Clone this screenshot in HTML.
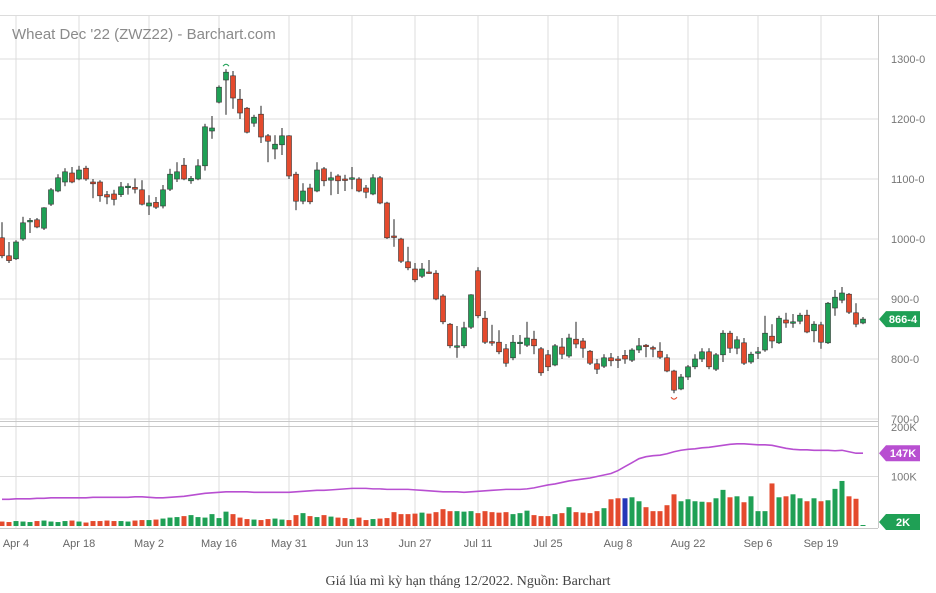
<!DOCTYPE html>
<html><head><meta charset="utf-8"><style>
body{margin:0;background:#fff;width:936px;height:593px;overflow:hidden;font-family:"Liberation Sans",sans-serif}
#cap{position:absolute;left:0;width:936px;top:574px;text-align:center;font-family:"Liberation Serif",serif;font-size:14px;color:#444}
</style></head><body>
<svg id="chart" width="936" height="565" style="position:absolute;left:0;top:0"></svg>
<div id="cap">Giá lúa mì kỳ hạn tháng 12/2022. Nguồn: Barchart</div>
<script>
const opens=[1002,972,967,1000,1030,1032,1018,1058,1080,1095,1110,1100,1118,1095,1095,1074,1075,1074,1088,1086,1082,1055,1061,1055,1083,1100,1123,1097,1100,1122,1180,1228,1265,1272,1233,1218,1193,1208,1172,1150,1157,1172,1108,1063,1085,1080,1117,1098,1105,1100,1101,1100,1085,1075,1102,1060,1005,1000,962,950,938,945,943,905,858,822,822,853,947,868,829,828,817,802,827,823,833,817,807,790,820,805,833,830,813,792,788,802,800,806,798,815,823,819,813,802,780,750,770,787,800,812,783,807,843,818,827,795,811,815,838,827,865,862,863,873,847,857,827,885,898,908,877,860];
const closes=[972,964,995,1027,1031,1020,1052,1082,1102,1112,1095,1115,1100,1092,1072,1070,1066,1087,1088,1083,1058,1060,1053,1082,1108,1112,1100,1101,1122,1187,1185,1253,1278,1235,1210,1178,1203,1170,1163,1158,1172,1105,1063,1080,1062,1115,1097,1102,1097,1099,1102,1080,1078,1102,1060,1002,1004,963,952,932,950,944,900,862,822,822,852,907,872,828,828,812,793,828,828,835,822,777,787,822,808,835,825,818,793,783,802,797,799,800,815,822,822,818,803,780,748,770,787,800,812,787,807,843,818,832,793,808,812,843,830,868,860,862,873,845,858,828,893,903,910,878,858,866.5];
const highs=[1028,995,998,1037,1035,1035,1053,1085,1108,1118,1120,1122,1122,1100,1098,1080,1082,1095,1093,1101,1098,1073,1070,1090,1117,1128,1135,1105,1133,1192,1205,1256,1283,1280,1250,1220,1207,1222,1175,1173,1185,1173,1112,1093,1092,1128,1120,1112,1108,1107,1120,1103,1090,1108,1105,1062,1033,1002,987,960,960,965,948,908,860,855,862,908,953,880,857,848,825,840,840,862,847,820,815,825,835,842,862,835,815,800,808,810,805,815,818,835,825,822,828,808,782,775,790,808,818,818,810,848,847,838,835,812,820,872,858,872,877,875,877,882,863,862,895,915,920,910,893,870];
const lows=[968,960,965,997,1010,1018,1015,1055,1078,1088,1093,1098,1097,1068,1062,1058,1056,1070,1074,1076,1056,1040,1050,1051,1080,1095,1098,1092,1098,1114,1167,1226,1207,1217,1200,1176,1187,1160,1128,1133,1140,1100,1048,1058,1058,1078,1088,1073,1075,1080,1083,1078,1068,1073,1058,1000,987,960,948,928,935,942,898,858,818,802,818,850,868,825,822,808,787,798,808,820,808,772,780,788,800,802,818,802,790,775,785,788,785,792,795,810,803,803,800,778,743,748,765,783,795,783,780,795,810,808,790,792,800,812,818,825,852,852,858,843,828,817,825,872,893,875,853,858];
const volumes=[9,8,10,9,8,10,11,9,8,10,11,9,7,10,10,11,10,10,9,11,12,12,13,15,17,18,20,22,18,17,24,16,29,24,17,14,13,12,14,15,13,12,22,26,20,18,22,19,17,16,14,17,12,14,15,16,28,24,24,25,27,25,28,34,30,30,29,30,26,30,28,27,28,24,26,31,22,20,20,24,26,38,28,27,26,30,36,54,56,56,58,50,38,30,30,42,64,50,54,50,49,48,56,73,58,60,48,60,30,30,86,58,60,64,56,50,56,50,52,75,91,60,55,2];
const openInterest=[54,54,55,55,55,56,56,57,57,57,57,57,57,58,58,58,58,58,58,59,59,58,57,57,58,59,60,62,64,66,67,68,69,69,69,69,68,68,68,68,68,68,69,70,71,72,72,73,74,75,76,76,76,75,75,74,74,74,74,73,72,71,70,69,69,69,68,69,70,71,72,73,74,74,74,75,77,80,83,85,88,91,93,95,97,100,103,106,112,120,128,136,140,142,143,146,150,153,155,156,158,159,161,163,165,166,166,165,164,164,163,160,157,155,154,154,153,153,153,152,153,150,147,147];
const priceTicks=[1300,1200,1100,1000,900,800,700];
const priceLabels=["1300-0","1200-0","1100-0","1000-0","900-0","800-0","700-0"];
const volTicks=[200,100];
const volLabels=["200K","100K"];
const dateIdx=[2,11,21,31,41,50,59,68,78,88,98,108,117];
const dateLabels=["Apr 4","Apr 18","May 2","May 16","May 31","Jun 13","Jun 27","Jul 11","Jul 25","Aug 8","Aug 22","Sep 6","Sep 19"];
const lastPrice="866-4", lastOI="147K", lastVol="2K";

const svg=document.getElementById('chart');
const NS='http://www.w3.org/2000/svg';
function mk(t,a,p){const e=document.createElementNS(NS,t);for(const k in a)e.setAttribute(k,a[k]);(p||svg).appendChild(e);return e;}
const xS=i=>2+7*i;
const yP=v=>59+(1300-v)*0.6;
const yV=v=>526-v*0.495;
const GREEN='#1fa055',RED='#e44a2d',GRID='#dcdcdc';

let g=mk('g',{});
mk('line',{x1:0,x2:936,y1:15.5,y2:15.5,stroke:GRID},g);
priceTicks.forEach(v=>mk('line',{x1:0,x2:878,y1:yP(v),y2:yP(v),stroke:GRID},g));
mk('line',{x1:0,x2:878,y1:yV(100),y2:yV(100),stroke:GRID},g);
dateIdx.forEach(i=>mk('line',{x1:xS(i),x2:xS(i),y1:15,y2:528,stroke:GRID},g));
mk('line',{x1:0,x2:878,y1:421.5,y2:421.5,stroke:'#c8c8c8'},g);
mk('line',{x1:0,x2:878,y1:426.5,y2:426.5,stroke:'#c8c8c8'},g);
mk('line',{x1:0,x2:878,y1:528.5,y2:528.5,stroke:'#c8c8c8'},g);
mk('line',{x1:878.5,x2:878.5,y1:15,y2:528,stroke:'#c8c8c8'},g);

let t=mk('text',{x:12,y:39,'font-size':15,fill:'#8a8a8a'});t.textContent="Wheat Dec '22 (ZWZ22) - Barchart.com";


priceTicks.forEach((v,k)=>{const e=mk('text',{x:891,y:yP(v)+4,'font-size':11,fill:'#777'});e.textContent=priceLabels[k];
});
volTicks.forEach((v,k)=>{const e=mk('text',{x:891,y:yV(v)+4,'font-size':11,fill:'#777'});e.textContent=volLabels[k];
});
dateIdx.forEach((i,k)=>{const e=mk('text',{x:xS(i),y:547,'font-size':11,fill:'#666','text-anchor':'middle'});e.textContent=dateLabels[k];
});

volumes.forEach((v,i)=>{const up=closes[i]>=opens[i];const col=i===89?'#2436b8':(up?GREEN:RED);
const r=mk('rect',{x:xS(i)-2.5,y:yV(v),width:5,height:526-yV(v),fill:col});
});

const pl=mk('polyline',{points:openInterest.map((v,i)=>xS(i)+','+yV(v)).join(' '),fill:'none',stroke:'#b84fd1','stroke-width':1.6});


opens.forEach((o,i)=>{const c=closes[i];const up=c>=o;const x=xS(i);
const cg=mk('g',{});
mk('line',{x1:x,x2:x,y1:yP(highs[i]),y2:yP(lows[i]),stroke:'#555','stroke-width':1.3},cg);
const top=yP(Math.max(o,c)),h=Math.max(1.5,Math.abs(yP(o)-yP(c)));
mk('rect',{x:x-2.5,y:top,width:5,height:h,fill:up?GREEN:RED,stroke:'#333','stroke-width':0.6},cg);});

let hi=highs.indexOf(Math.max(...highs)),lo=lows.indexOf(Math.min(...lows));
mk('path',{d:`M${xS(hi)-3},${yP(highs[hi])-3} q3,-4 6,0`,fill:'none',stroke:GREEN});
mk('path',{d:`M${xS(lo)-3},${yP(lows[lo])+4} q3,4 6,0`,fill:'none',stroke:RED});

function badge(y,txt,col,name){const bg=mk('g',{});
mk('path',{d:`M879,${y} L886,${y-8} L920,${y-8} L920,${y+8} L886,${y+8} Z`,fill:col},bg);
const e=mk('text',{x:903,y:y+4,'font-size':11,'font-weight':'bold',fill:'#fff','text-anchor':'middle'},bg);e.textContent=txt;}
badge(yP(closes[closes.length-1]),lastPrice,'#1fa055','last-price-badge');
badge(yV(openInterest[openInterest.length-1]),lastOI,'#b84fd1','open-interest-badge');
badge(522,lastVol,'#1fa055','last-volume-badge');
</script>
</body></html>
